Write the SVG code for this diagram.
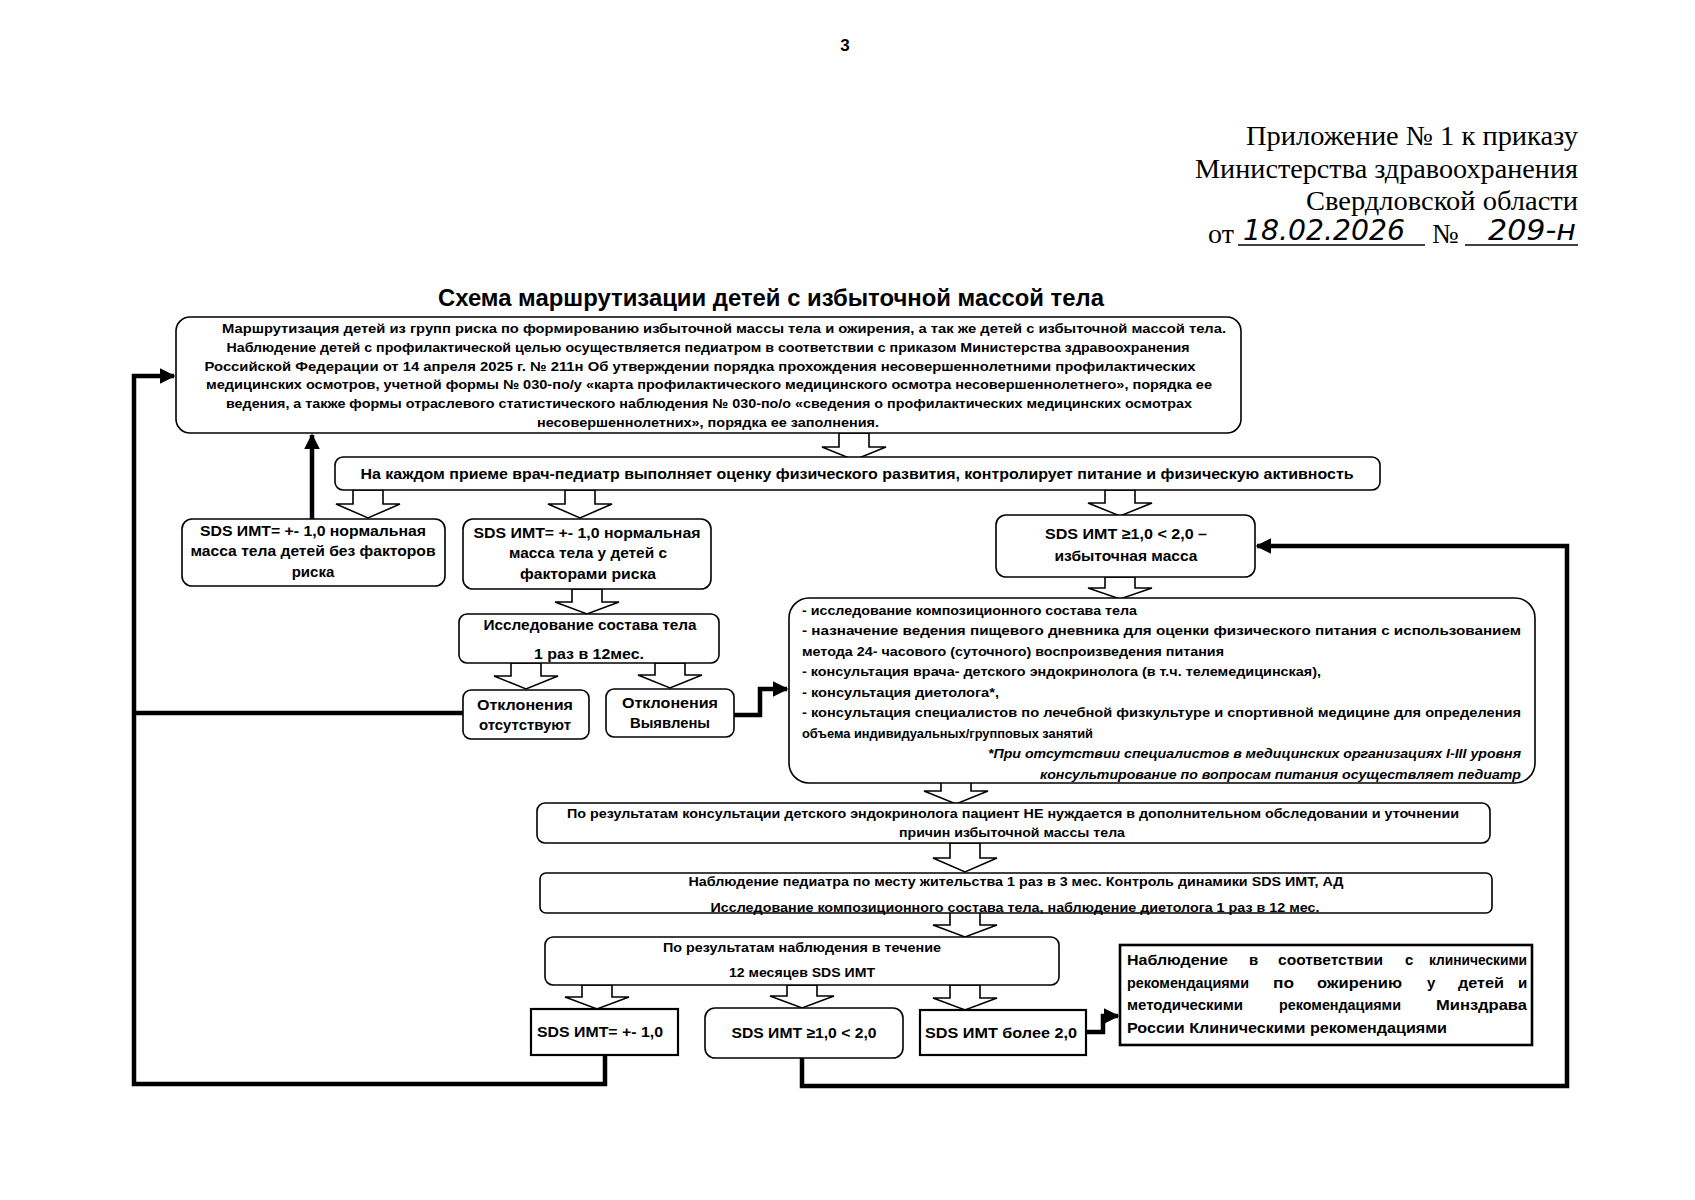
<svg xmlns="http://www.w3.org/2000/svg" width="1695" height="1200" viewBox="0 0 1695 1200">
<style>
.bx{fill:#fff;stroke:#000;stroke-width:1.6}
.sq{fill:#fff;stroke:#000;stroke-width:2.2}
.t{font-family:"Liberation Sans",Arial,sans-serif;font-weight:bold;fill:#000}
.s13{font-size:13px}
.s15{font-size:15px}
.c{text-anchor:middle}
.e{text-anchor:end}
.it{font-style:italic}
.hdr{font-family:"Liberation Serif","Times New Roman",serif;font-size:28px;fill:#000;text-anchor:end}
.hw{font-family:"DejaVu Sans","Liberation Sans",sans-serif;font-style:italic;font-size:28px;fill:#000}
.ba{fill:#fff;stroke:#000;stroke-width:1.6;stroke-linejoin:miter}
.ln{fill:none;stroke:#000;stroke-width:4.5;stroke-linejoin:miter}
</style>
<defs>
<marker id="ah" viewBox="0 0 10 10" refX="9" refY="5" markerWidth="16" markerHeight="16" markerUnits="userSpaceOnUse" orient="auto">
<path d="M0,0 L10,5 L0,10 Z" fill="#000"/>
</marker>
</defs>
<rect width="1695" height="1200" fill="#fff"/>

<g id="header">
<text x="845" y="51" class="t c" font-size="17">3</text>
<text x="1578" y="145" class="hdr" textLength="332" lengthAdjust="spacingAndGlyphs">Приложение № 1 к приказу</text>
<text x="1578" y="178" class="hdr" textLength="383" lengthAdjust="spacingAndGlyphs">Министерства здравоохранения</text>
<text x="1578" y="210" class="hdr" textLength="272" lengthAdjust="spacingAndGlyphs">Свердловской области</text>
<text x="1208" y="243" font-family="Liberation Serif,serif" font-size="28">от</text>
<text x="1243" y="240" class="hw" textLength="162" lengthAdjust="spacingAndGlyphs">18.02.2026</text>
<line x1="1238" y1="245" x2="1425" y2="245" stroke="#000" stroke-width="1.5"/>
<text x="1432" y="243" font-family="Liberation Serif,serif" font-size="28">№</text>
<text x="1488" y="240" class="hw" textLength="88" lengthAdjust="spacingAndGlyphs">209-н</text>
<line x1="1465" y1="245" x2="1578" y2="245" stroke="#000" stroke-width="1.5"/>
<text x="771" y="306" class="t c" font-size="24" textLength="666" lengthAdjust="spacingAndGlyphs">Схема маршрутизации детей с избыточной массой тела</text>
</g>

<g id="connectors">
<path class="ba" d="M839,433 V447 H822 L854,460 L886,447 H869 V433 Z"/>
<path class="ba" d="M353,490 V504 H336 L368,518 L400,504 H383 V490 Z"/>
<path class="ba" d="M565,490 V504 H548 L580,518 L612,504 H595 V490 Z"/>
<path class="ba" d="M1105,490 V503 H1088 L1120,516 L1152,503 H1135 V490 Z"/>
<path class="ba" d="M572,589 V602 H555 L587,614 L619,602 H602 V589 Z"/>
<path class="ba" d="M511,663 V676 H494 L526,689 L558,676 H541 V663 Z"/>
<path class="ba" d="M655,663 V675 H638 L670,688 L702,675 H685 V663 Z"/>
<path class="ba" d="M1105,577 V588 H1088 L1120,599 L1152,588 H1135 V577 Z"/>
<path class="ba" d="M941,780 V791 H924 L956,804 L988,791 H971 V780 Z"/>
<path class="ba" d="M950,843 V858 H933 L965,872 L997,858 H980 V843 Z"/>
<path class="ba" d="M950,912 V925 H933 L965,937 L997,925 H980 V912 Z"/>
<path class="ba" d="M582,985 V997 H565 L597,1009 L629,997 H612 V985 Z"/>
<path class="ba" d="M787,985 V996 H770 L802,1008 L834,996 H817 V985 Z"/>
<path class="ba" d="M950,985 V998 H933 L965,1010 L997,998 H980 V985 Z"/>

<path class="ln" d="M605,1055 V1084 H134 V376 H174" marker-end="url(#ah)"/>
<path class="ln" d="M463,713 H134"/>
<path class="ln" d="M312,519 V435" marker-end="url(#ah)"/>
<path class="ln" d="M734,715 H760 V689 H787" marker-end="url(#ah)"/>
<path class="ln" d="M802,1058 V1086 H1567 V546 H1257" marker-end="url(#ah)"/>
<path class="ln" d="M1086,1032 H1103 V1016 H1118" marker-end="url(#ah)"/>
</g>

<g id="n1">
<rect class="bx" x="176" y="317" width="1065" height="116" rx="14"/>
<text class="t s13 c" x="724" y="333" textLength="1004" lengthAdjust="spacingAndGlyphs">Маршрутизация детей из групп риска по формированию избыточной массы тела и ожирения, а так же детей с избыточной массой тела.</text>
<text class="t s13 c" x="708" y="352" textLength="963" lengthAdjust="spacingAndGlyphs">Наблюдение детей с профилактической целью осуществляется педиатром в соответствии с приказом Министерства здравоохранения</text>
<text class="t s13 c" x="700" y="371" textLength="991" lengthAdjust="spacingAndGlyphs">Российской Федерации от 14 апреля 2025 г. № 211н  Об утверждении порядка прохождения несовершеннолетними профилактических</text>
<text class="t s13 c" x="709" y="389" textLength="1006" lengthAdjust="spacingAndGlyphs">медицинских осмотров, учетной формы №  030-по/у «карта профилактического медицинского осмотра несовершеннолетнего», порядка ее</text>
<text class="t s13 c" x="709" y="408" textLength="966" lengthAdjust="spacingAndGlyphs">ведения, а также формы отраслевого статистического наблюдения № 030-по/о «сведения о профилактических медицинских осмотрах</text>
<text class="t s13 c" x="708" y="427" textLength="342" lengthAdjust="spacingAndGlyphs">несовершеннолетних», порядка ее заполнения.</text>
</g>

<g id="n2">
<rect class="bx" x="335" y="457" width="1045" height="33" rx="8"/>
<text class="t c" font-size="14" x="857" y="479" textLength="993" lengthAdjust="spacingAndGlyphs">На каждом приеме врач-педиатр выполняет оценку физического развития, контролирует питание и физическую активность</text>
</g>

<g id="n3">
<rect class="bx" x="182" y="519" width="263" height="67" rx="10"/>
<text class="t s15 c" x="313" y="536" textLength="226" lengthAdjust="spacingAndGlyphs">SDS ИМТ= +- 1,0 нормальная</text>
<text class="t s15 c" x="313" y="556" textLength="245" lengthAdjust="spacingAndGlyphs">масса тела детей без факторов</text>
<text class="t s15 c" x="313" y="577">риска</text>
</g>

<g id="n4">
<rect class="bx" x="463" y="519" width="248" height="70" rx="10"/>
<text class="t s15 c" x="587" y="538" textLength="227" lengthAdjust="spacingAndGlyphs">SDS ИМТ= +- 1,0 нормальная</text>
<text class="t s15 c" x="588" y="558" textLength="158" lengthAdjust="spacingAndGlyphs">масса тела у детей с</text>
<text class="t s15 c" x="588" y="579" textLength="136" lengthAdjust="spacingAndGlyphs">факторами риска</text>
</g>

<g id="n5">
<rect class="bx" x="996" y="515" width="259" height="62" rx="10"/>
<text class="t s15 c" x="1126" y="539" textLength="162" lengthAdjust="spacingAndGlyphs">SDS ИМТ ≥1,0 &lt; 2,0 –</text>
<text class="t s15 c" x="1126" y="561" textLength="143" lengthAdjust="spacingAndGlyphs">избыточная масса</text>
</g>

<g id="n6">
<rect class="bx" x="459" y="614" width="260" height="49" rx="8"/>
<text class="t s15 c" x="590" y="630" textLength="213" lengthAdjust="spacingAndGlyphs">Исследование состава тела</text>
<text class="t s15 c" x="589" y="659" textLength="110" lengthAdjust="spacingAndGlyphs">1 раз в 12мес.</text>
</g>

<g id="n7">
<rect class="bx" x="463" y="690" width="126" height="49" rx="8"/>
<text class="t s15 c" x="525" y="710" textLength="96" lengthAdjust="spacingAndGlyphs">Отклонения</text>
<text class="t s15 c" x="525" y="730" textLength="92" lengthAdjust="spacingAndGlyphs">отсутствуют</text>
</g>

<g id="n8">
<rect class="bx" x="606" y="689" width="128" height="48" rx="8"/>
<text class="t s15 c" x="670" y="708" textLength="96" lengthAdjust="spacingAndGlyphs">Отклонения</text>
<text class="t s15 c" x="670" y="728" textLength="80" lengthAdjust="spacingAndGlyphs">Выявлены</text>
</g>

<g id="n9">
<rect class="bx" x="789" y="598" width="746" height="185" rx="20"/>
<text class="t s13" x="802" y="615" textLength="335" lengthAdjust="spacingAndGlyphs">- исследование композиционного состава тела</text>
<text class="t s13" x="802" y="635" textLength="719" lengthAdjust="spacingAndGlyphs">- назначение ведения пищевого дневника для оценки физического питания с использованием</text>
<text class="t s13" x="802" y="656" textLength="422" lengthAdjust="spacingAndGlyphs">метода 24- часового (суточного) воспроизведения питания</text>
<text class="t s13" x="802" y="676" textLength="519" lengthAdjust="spacingAndGlyphs">- консультация врача- детского эндокринолога (в т.ч. телемедицинская),</text>
<text class="t s13" x="802" y="697" textLength="197" lengthAdjust="spacingAndGlyphs">- консультация диетолога*,</text>
<text class="t s13" x="802" y="717" textLength="719" lengthAdjust="spacingAndGlyphs">- консультация специалистов по лечебной физкультуре и спортивной медицине для определения</text>
<text class="t s13" x="802" y="738" textLength="291" lengthAdjust="spacingAndGlyphs">объема индивидуальных/групповых занятий</text>
<text class="t s13 it" x="988" y="758" textLength="533" lengthAdjust="spacingAndGlyphs">*При отсутствии специалистов в медицинских организациях I-III уровня</text>
<text class="t s13 it" x="1040" y="779" textLength="481" lengthAdjust="spacingAndGlyphs">консультирование по вопросам питания осуществляет педиатр</text>
</g>

<g id="n10">
<rect class="bx" x="537" y="803" width="953" height="40" rx="8"/>
<text class="t s13 c" x="1013" y="818" textLength="892" lengthAdjust="spacingAndGlyphs">По результатам консультации детского эндокринолога пациент НЕ нуждается в дополнительном обследовании и уточнении</text>
<text class="t s13 c" x="1012" y="837" textLength="226" lengthAdjust="spacingAndGlyphs">причин избыточной массы тела</text>
</g>

<g id="n11">
<rect class="bx" x="540" y="873" width="952" height="40" rx="6"/>
<text class="t s13 c" x="1016" y="886" textLength="655" lengthAdjust="spacingAndGlyphs">Наблюдение педиатра по месту жительства 1 раз в 3 мес. Контроль динамики SDS ИМТ, АД</text>
<text class="t s13 c" x="1015" y="912" textLength="609" lengthAdjust="spacingAndGlyphs">Исследование композиционного состава тела, наблюдение диетолога 1 раз в 12 мес.</text>
</g>

<g id="n12">
<rect class="bx" x="545" y="937" width="514" height="48" rx="8"/>
<text class="t s13 c" x="802" y="952" textLength="278" lengthAdjust="spacingAndGlyphs">По результатам наблюдения в течение</text>
<text class="t s13 c" x="802" y="977" textLength="146" lengthAdjust="spacingAndGlyphs">12 месяцев SDS ИМТ</text>
</g>

<g id="n13">
<rect class="sq" x="531" y="1009" width="147" height="46"/>
<text class="t s15 c" x="600" y="1037" textLength="126" lengthAdjust="spacingAndGlyphs">SDS ИМТ= +- 1,0</text>
</g>

<g id="n14">
<rect class="bx" x="705" y="1008" width="198" height="50" rx="10"/>
<text class="t s15 c" x="804" y="1038" textLength="145" lengthAdjust="spacingAndGlyphs">SDS ИМТ ≥1,0 &lt; 2,0</text>
</g>

<g id="n15">
<rect class="sq" x="920" y="1010" width="166" height="45"/>
<text class="t s15 c" x="1001" y="1038" textLength="152" lengthAdjust="spacingAndGlyphs">SDS ИМТ более 2,0</text>
</g>

<g id="n16">
<rect x="1120" y="945" width="412" height="100" fill="#fff" stroke="#000" stroke-width="2.6"/>
<text class="t s15" x="1127" y="965" textLength="101" lengthAdjust="spacingAndGlyphs">Наблюдение</text>
<text class="t s15" x="1249" y="965">в</text>
<text class="t s15" x="1278" y="965" textLength="105" lengthAdjust="spacingAndGlyphs">соответствии</text>
<text class="t s15" x="1405" y="965">с</text>
<text class="t s15" x="1429" y="965" textLength="98" lengthAdjust="spacingAndGlyphs">клиническими</text>
<text class="t s15" x="1127" y="988" textLength="122" lengthAdjust="spacingAndGlyphs">рекомендациями</text>
<text class="t s15" x="1273" y="988" textLength="21" lengthAdjust="spacingAndGlyphs">по</text>
<text class="t s15" x="1317" y="988" textLength="85" lengthAdjust="spacingAndGlyphs">ожирению</text>
<text class="t s15" x="1427" y="988">у</text>
<text class="t s15" x="1458" y="988" textLength="46" lengthAdjust="spacingAndGlyphs">детей</text>
<text class="t s15" x="1518" y="988">и</text>
<text class="t s15" x="1127" y="1010" textLength="116" lengthAdjust="spacingAndGlyphs">методическими</text>
<text class="t s15" x="1279" y="1010" textLength="122" lengthAdjust="spacingAndGlyphs">рекомендациями</text>
<text class="t s15" x="1436" y="1010" textLength="91" lengthAdjust="spacingAndGlyphs">Минздрава</text>
<text class="t s15" x="1127" y="1033" textLength="320" lengthAdjust="spacingAndGlyphs">России Клиническими рекомендациями</text>
</g>
</svg>
